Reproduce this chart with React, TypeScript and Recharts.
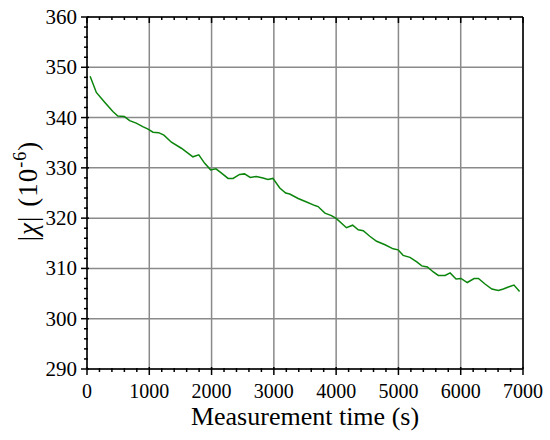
import { CartesianGrid, Line, LineChart, XAxis, YAxis } from "recharts";

// Susceptibility |chi| drifting down over a 7000 s measurement.

const TIME_S = [
  50, 150, 280, 415, 495, 600, 685, 790, 895, 980,
  1060, 1150, 1235, 1355, 1515, 1700, 1795, 1890, 1985, 2070,
  2155, 2265, 2345, 2450, 2530, 2620, 2720, 2825, 2905, 2985,
  3095, 3190, 3255, 3390, 3525, 3660, 3710, 3820, 3925, 4005,
  4165, 4265, 4355, 4435, 4540, 4650, 4785, 4915, 4995, 5075,
  5185, 5295, 5375, 5465, 5560, 5640, 5750, 5830, 5925, 6005,
  6105, 6215, 6285, 6390, 6500, 6605, 6685, 6765, 6855, 6945,
];
const CHI = [
  348.2, 345.0, 343.1, 341.2, 340.3, 340.2, 339.4, 338.9, 338.2, 337.7,
  337.1, 337.0, 336.5, 335.1, 333.9, 332.2, 332.6, 330.9, 329.6, 329.8,
  329.0, 327.9, 327.9, 328.7, 328.8, 328.1, 328.3, 328.0, 327.7, 327.9,
  326.0, 325.0, 324.8, 323.9, 323.2, 322.5, 322.3, 321.0, 320.5, 319.9,
  318.1, 318.6, 317.7, 317.5, 316.4, 315.4, 314.7, 313.9, 313.7, 312.6,
  312.2, 311.3, 310.5, 310.3, 309.3, 308.6, 308.6, 309.1, 307.9, 308.0,
  307.2, 308.0, 308.0, 306.9, 305.9, 305.6, 305.9, 306.3, 306.7, 305.4,
];

const X_MAJOR = [0, 1000, 2000, 3000, 4000, 5000, 6000, 7000];
const X_ALL = [
  0, 200, 400, 600, 800, 1000, 1200, 1400, 1600, 1800, 2000, 2200, 2400, 2600, 2800,
  3000, 3200, 3400, 3600, 3800, 4000, 4200, 4400, 4600, 4800, 5000, 5200, 5400, 5600,
  5800, 6000, 6200, 6400, 6600, 6800, 7000,
];
const Y_MAJOR = [290, 300, 310, 320, 330, 340, 350, 360];
const Y_ALL = [
  290, 292, 294, 296, 298, 300, 302, 304, 306, 308, 310, 312, 314, 316, 318, 320, 322,
  324, 326, 328, 330, 332, 334, 336, 338, 340, 342, 344, 346, 348, 350, 352, 354, 356,
  358, 360,
];

const data = TIME_S.map((t, i) => ({ t, chi: CHI[i] }));

const FONT = "'Liberation Serif', 'Times New Roman', serif";
const isXMajor = (v: number) => X_MAJOR.includes(v);
const isYMajor = (v: number) => Y_MAJOR.includes(v);

function BottomTick({ x, y, payload }: any) {
  const major = isXMajor(payload.value);
  return (
    <g>
      <line x1={x} x2={x} y1={y - (major ? 2 : 1)} y2={y + (major ? 6 : 3)} stroke="#000" strokeWidth={1.5} />
      {major && (
        <text x={x} y={y + 29} textAnchor="middle" fontFamily={FONT} fontSize={20} fill="#000">
          {payload.value}
        </text>
      )}
    </g>
  );
}

function LeftTick({ x, y, payload }: any) {
  const major = isYMajor(payload.value);
  return (
    <g>
      <line x1={x + (major ? 2 : 1)} x2={x - (major ? 6 : 3)} y1={y} y2={y} stroke="#000" strokeWidth={1.5} />
      {major && (
        <text x={x - 10} y={y + 7} textAnchor="end" fontFamily={FONT} fontSize={21} fill="#000">
          {payload.value}
        </text>
      )}
    </g>
  );
}

function TopTick({ x, y, payload }: any) {
  const len = isXMajor(payload.value) ? 6 : 3;
  return <line x1={x} x2={x} y1={y} y2={y + len} stroke="#000" strokeWidth={1.5} />;
}

function RightTick({ x, y, payload }: any) {
  const len = isYMajor(payload.value) ? 6 : 3;
  return <line x1={x} x2={x - len} y1={y} y2={y} stroke="#000" strokeWidth={1.5} />;
}

function XTitle({ viewBox }: any) {
  return (
    <text
      x={viewBox.x + viewBox.width / 2}
      y={viewBox.y + 56}
      textAnchor="middle"
      fontFamily={FONT}
      fontSize={26}
      fill="#000"
    >
      Measurement time (s)
    </text>
  );
}

function YTitle({ viewBox }: any) {
  const cx = viewBox.x + 37;
  const cy = viewBox.y + viewBox.height / 2 - 2;
  return (
    <text
      x={cx}
      y={cy}
      transform={`rotate(-90 ${cx} ${cy})`}
      textAnchor="middle"
      fontFamily={FONT}
      fontSize={27}
      letterSpacing={1}
      fill="#000"
    >
      <tspan>|</tspan>
      <tspan fontStyle="italic">χ</tspan>
      <tspan>|</tspan>
      <tspan dx={9}>(10</tspan>
      <tspan fontSize={18} dy={-11}>-6</tspan>
      <tspan dy={11}>)</tspan>
    </text>
  );
}

export default function App() {
  return (
    <div style={{ position: "absolute", left: 0, top: 0, background: "#fff" }}>
      <LineChart width={550} height={440} data={data} margin={{ top: 16, right: 26, bottom: 0, left: 0 }}>
        <CartesianGrid
          stroke="#8a8a8a"
          strokeWidth={1.5}
          verticalValues={X_MAJOR}
          horizontalValues={Y_MAJOR}
        />
        <XAxis
          dataKey="t"
          type="number"
          domain={[0, 7000]}
          ticks={X_ALL}
          interval={0}
          height={71}
          tickSize={0}
          tickMargin={0}
          tickLine={false}
          axisLine={{ stroke: "#000", strokeWidth: 1.5 }}
          tick={<BottomTick />}
          label={{ content: <XTitle /> }}
        />
        <XAxis
          xAxisId="top"
          orientation="top"
          dataKey="t"
          type="number"
          domain={[0, 7000]}
          ticks={X_ALL}
          interval={0}
          height={1}
          tickSize={0}
          tickMargin={0}
          tickLine={false}
          axisLine={{ stroke: "#000", strokeWidth: 1.5 }}
          tick={<TopTick />}
        />
        <YAxis
          type="number"
          domain={[290, 360]}
          ticks={Y_ALL}
          interval={0}
          width={87}
          tickSize={0}
          tickMargin={0}
          tickLine={false}
          axisLine={{ stroke: "#000", strokeWidth: 1.5 }}
          tick={<LeftTick />}
          label={{ content: <YTitle /> }}
        />
        <YAxis
          yAxisId="right"
          orientation="right"
          type="number"
          domain={[290, 360]}
          ticks={Y_ALL}
          interval={0}
          width={1}
          tickSize={0}
          tickMargin={0}
          tickLine={false}
          axisLine={{ stroke: "#000", strokeWidth: 1.5 }}
          tick={<RightTick />}
        />
        <Line
          type="linear"
          dataKey="chi"
          stroke="#0c850c"
          strokeWidth={1.5}
          dot={false}
          isAnimationActive={false}
        />
      </LineChart>
    </div>
  );
}
